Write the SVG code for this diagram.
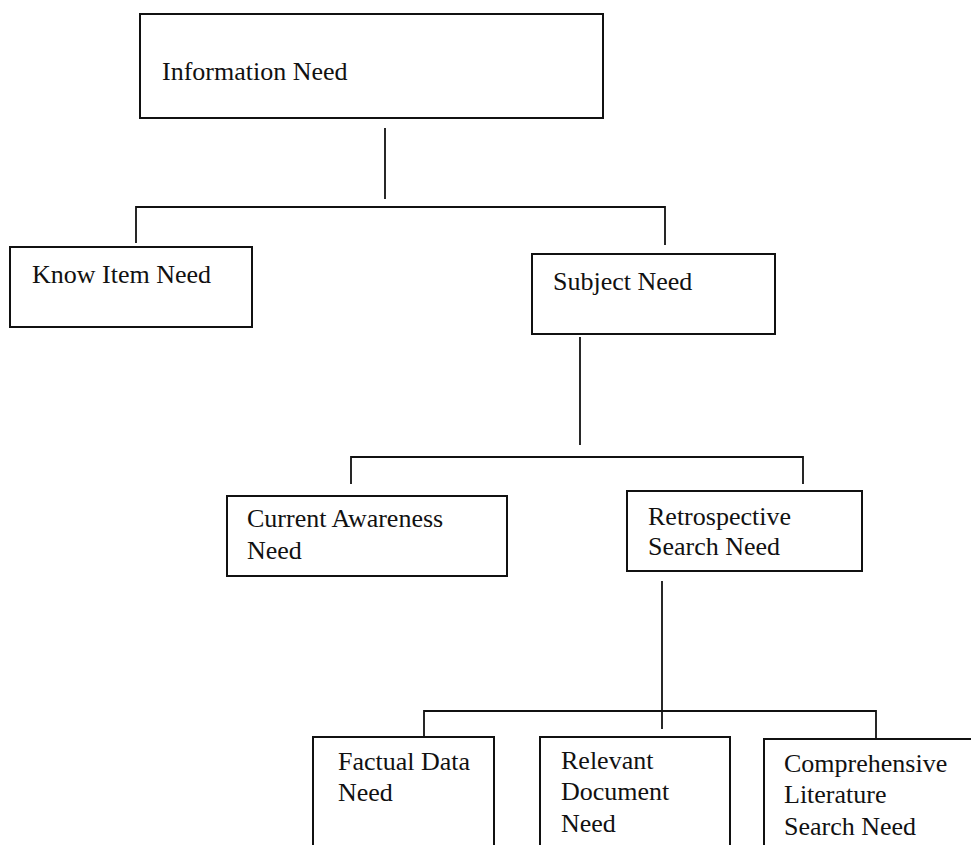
<svg xmlns="http://www.w3.org/2000/svg" width="971" height="845" viewBox="0 0 971 845">
  <style>
    .box { fill: #fff; stroke: #111; stroke-width: 2; }
    .wire { fill: none; stroke: #111; stroke-width: 1.8; }
    .lbl { font-family: "Liberation Serif", "Times New Roman", serif; font-size: 26px; fill: #111; }
  </style>
  <rect width="971" height="845" fill="#fff"/>

  <!-- connectors: trunk lines and bracket-shaped branches -->
  <g id="connectors">
    <path class="wire" d="M385 128 V199"/>
    <path class="wire" d="M136 243 V207 H665 V245"/>
    <path class="wire" d="M580 337 V445"/>
    <path class="wire" d="M351 484 V457 H803 V484"/>
    <path class="wire" d="M662 581 V729"/>
    <path class="wire" d="M424 737 V711 H876 V738"/>
  </g>

  <g id="information-need">
    <rect class="box" x="140" y="14" width="463" height="104"/>
    <text class="lbl" x="162" y="80">Information Need</text>
  </g>

  <g id="know-item-need">
    <rect class="box" x="10" y="247" width="242" height="80"/>
    <text class="lbl" x="32" y="283">Know Item Need</text>
  </g>

  <g id="subject-need">
    <rect class="box" x="532" y="254" width="243" height="80"/>
    <text class="lbl" x="553" y="290">Subject Need</text>
  </g>

  <g id="current-awareness-need">
    <rect class="box" x="227" y="496" width="280" height="80"/>
    <text class="lbl" x="247" y="527">Current Awareness</text>
    <text class="lbl" x="247" y="559">Need</text>
  </g>

  <g id="retrospective-search-need">
    <rect class="box" x="627" y="491" width="235" height="80"/>
    <text class="lbl" x="648" y="525">Retrospective</text>
    <text class="lbl" x="648" y="555">Search Need</text>
  </g>

  <g id="factual-data-need">
    <rect class="box" x="313" y="737" width="181" height="130"/>
    <text class="lbl" x="338" y="770">Factual Data</text>
    <text class="lbl" x="338" y="801">Need</text>
  </g>

  <g id="relevant-document-need">
    <rect class="box" x="540" y="737" width="190" height="130"/>
    <text class="lbl" x="561" y="769">Relevant</text>
    <text class="lbl" x="561" y="800">Document</text>
    <text class="lbl" x="561" y="832">Need</text>
  </g>

  <g id="comprehensive-literature-search-need">
    <rect class="box" x="764" y="739" width="230" height="130"/>
    <text class="lbl" x="784" y="772">Comprehensive</text>
    <text class="lbl" x="784" y="803">Literature</text>
    <text class="lbl" x="784" y="835">Search Need</text>
  </g>
</svg>
